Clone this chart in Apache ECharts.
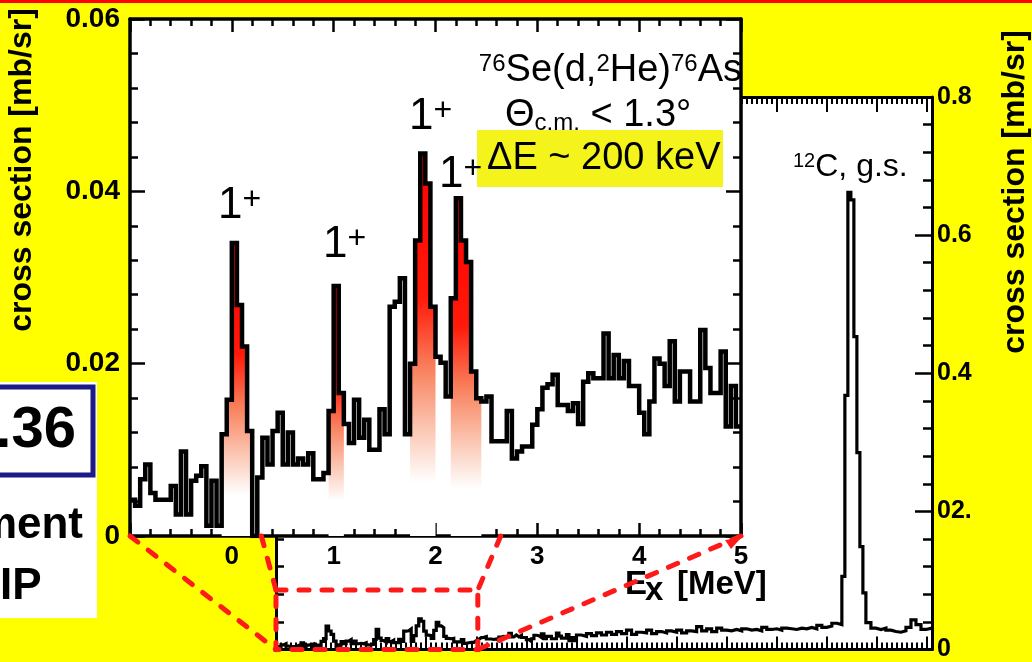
<!DOCTYPE html>
<html>
<head>
<meta charset="utf-8">
<script src="https://cdn.jsdelivr.net/npm/echarts@6/dist/echarts.min.js"></script>
<style>
html,body{margin:0;padding:0;background:#ffff00;}
#c{width:1032px;height:662px;}
</style>
</head>
<body>
<div id="c"></div>
<script>
// ---------------- data ----------------
// Inset spectrum 76Se(d,2He)76As, 0.05 MeV bins starting at Ex = -1 MeV [mb/sr]
const insetStartEx = -1.0;
const insetBinWidth = 0.05;
const insetValues = [
0.0042,0.0035,0.0066,0.0083,0.0050,0.0042,0.0042,0.0042,0.0058,0.0025,
0.0098,0.0025,0.0064,0.0070,0.0081,0.0012,0.0064,0.0012,0.0118,0.0158,
0.0340,0.0268,0.0220,0.0122,0.0000,0.0068,0.0114,0.0083,0.0122,0.0143,
0.0083,0.0120,0.0083,0.0090,0.0083,0.0096,0.0066,0.0066,0.0073,0.0145,
0.0290,0.0166,0.0130,0.0108,0.0158,0.0114,0.0135,0.0100,0.0100,0.0147,
0.0118,0.0266,0.0272,0.0299,0.0118,0.0200,0.0343,0.0444,0.0409,0.0266,
0.0208,0.0201,0.0162,0.0276,0.0392,0.0343,0.0318,0.0191,0.0160,0.0156,
0.0162,0.0110,0.0110,0.0110,0.0145,0.0090,0.0098,0.0104,0.0104,0.0129,
0.0147,0.0172,0.0176,0.0187,0.0152,0.0152,0.0145,0.0154,0.0130,0.0179,
0.0189,0.0183,0.0183,0.0235,0.0183,0.0210,0.0183,0.0203,0.0174,0.0174,
0.0143,0.0118,0.0156,0.0206,0.0200,0.0174,0.0226,0.0156,0.0191,0.0191,
0.0156,0.0156,0.0239,0.0195,0.0166,0.0166,0.0214,0.0127,0.0174,0.0127
];
// 1+ states (first and last bin index of each shaded peak)
const peakBinRanges = [[18,23],[39,41],[55,59],[63,68]];

// Full spectrum above 5 MeV (left bin edges and values) [mb/sr]
const tailEdges = [
5.0,5.1,5.2,5.3,5.4,5.5,5.6,5.7,5.8,5.9,
6.0,6.1,6.2,6.3,6.4,6.5,6.6,6.7,6.8,6.9,
7.0,7.1,7.2,7.3,7.4,7.5,7.6,7.7,7.8,7.9,
8.0,8.1,8.2,8.3,8.4,8.5,8.6,8.7,8.8,8.9,
9.0,9.1,9.2,9.3,9.4,9.5,9.6,9.7,9.8,9.9,
10.0,10.1,10.2,
10.30,10.36,10.42,10.48,10.54,10.60,10.66,10.72,
10.78,10.88,10.98,11.08,11.18,11.28,11.38,11.48,11.58,11.68,11.78,11.88,11.98
];
const tailValues = [
0.021,0.019,0.023,0.020,0.024,0.021,0.025,0.022,0.026,0.023,
0.028,0.022,0.025,0.024,0.028,0.023,0.026,0.024,0.027,0.025,
0.028,0.024,0.027,0.026,0.033,0.027,0.030,0.026,0.031,0.028,
0.027,0.029,0.027,0.030,0.028,0.029,0.027,0.032,0.029,0.030,
0.028,0.031,0.030,0.029,0.031,0.030,0.032,0.030,0.035,0.032,
0.034,0.038,0.036,
0.106,0.368,0.662,0.651,0.453,0.285,0.149,0.082,
0.039,0.031,0.029,0.031,0.028,0.026,0.025,0.027,0.032,0.043,0.036,0.029,0.031
];
const tailEnd = 12.1;

// tick labels
const mainYTickLabels = ['0','02.','0.4','0.6','0.8'];
const insetYTickLabels = ['0','0.02','0.04','0.06'];
const insetXTickLabels = ['','0','1','2','3','4','5'];

// ---------------- build ----------------
const FONT = '"Liberation Sans", Arial, Helvetica, sans-serif';

function binPoints(start, width, values, a, b) {
  const pts = [];
  for (let i = a; i <= b; i++) pts.push([+(start + i * width).toFixed(4), values[i]]);
  return pts;
}
const insetPts = binPoints(insetStartEx, insetBinWidth, insetValues, 0, insetValues.length - 1);
const insetLine = insetPts.concat([[+(insetStartEx + insetValues.length * insetBinWidth).toFixed(4), insetValues[insetValues.length - 1]]]);

const mainLine = insetPts.slice();
tailEdges.forEach((e, i) => mainLine.push([e, tailValues[i]]));
mainLine.push([tailEnd, tailValues[tailValues.length - 1]]);

const peakSeries = peakBinRanges.map(([a, b]) => {
  const pts = binPoints(insetStartEx, insetBinWidth, insetValues, a, b);
  pts.push([+(insetStartEx + (b + 1) * insetBinWidth).toFixed(4), insetValues[b]]);
  return {
    type: 'line', xAxisIndex: 2, yAxisIndex: 2, step: 'end', symbol: 'none',
    data: pts, zlevel: 1, z: 2, silent: true,
    lineStyle: { width: 0, color: 'rgba(0,0,0,0)' },
    areaStyle: {
      opacity: 1,
      color: { type: 'linear', x: 0, y: 0, x2: 0, y2: 1, colorStops: [
        { offset: 0, color: '#ff0000' },
        { offset: 0.38, color: '#ff1a0a' },
        { offset: 0.56, color: '#f8805c' },
        { offset: 0.72, color: '#fbc6b2' },
        { offset: 0.86, color: '#ffffff' },
        { offset: 1, color: '#ffffff' }
      ] }
    }
  };
});

const blk = '#000';
function tickAxis(extra) {
  return Object.assign({
    type: 'value',
    axisLine: { show: true, onZero: false, lineStyle: { color: blk, width: 3 } },
    splitLine: { show: false }, minorSplitLine: { show: false },
    axisLabel: { show: false }
  }, extra);
}

const option = {
  backgroundColor: '#ffff00',
  animation: false,
  grid: [
    { left: 276, top: 97, width: 656, height: 556, show: true, backgroundColor: '#ffffff', borderWidth: 0, borderColor: 'transparent', zlevel: 0 },
    { left: 130, top: 19, width: 611, height: 517, show: true, backgroundColor: '#ffffff', borderWidth: 0, borderColor: 'transparent', zlevel: 1 }
  ],
  xAxis: [
    tickAxis({ gridIndex: 0, position: 'bottom', min: -1, max: 12.1, interval: 1, zlevel: 0,
      axisTick: { show: true, inside: true, length: 13, lineStyle: { color: blk, width: 2 } },
      minorTick: { show: true, splitNumber: 10, length: 7, lineStyle: { color: blk, width: 2 } } }),
    tickAxis({ gridIndex: 0, position: 'top', min: -1, max: 12.1, interval: 1, zlevel: 0,
      axisTick: { show: true, inside: true, length: 15, lineStyle: { color: blk, width: 2 } },
      minorTick: { show: true, splitNumber: 10, length: 7, lineStyle: { color: blk, width: 2 } } }),
    tickAxis({ gridIndex: 1, position: 'bottom', min: -1, max: 5, interval: 1, zlevel: 1,
      axisLine: { show: true, onZero: false, lineStyle: { color: blk, width: 3.5 } },
      axisTick: { show: true, inside: true, length: 13, lineStyle: { color: blk, width: 2.5 } },
      minorTick: { show: true, splitNumber: 5, length: 7, lineStyle: { color: blk, width: 2.5 } },
      axisLabel: { show: true, margin: 8, fontSize: 26, fontWeight: 'bold', fontFamily: FONT, color: blk,
        formatter: v => insetXTickLabels[Math.round(v) + 1] } }),
    tickAxis({ gridIndex: 1, position: 'top', min: -1, max: 5, interval: 1, zlevel: 1,
      axisLine: { show: true, onZero: false, lineStyle: { color: blk, width: 3.5 } },
      axisTick: { show: true, inside: true, length: 13, lineStyle: { color: blk, width: 2.5 } },
      minorTick: { show: true, splitNumber: 5, length: 7, lineStyle: { color: blk, width: 2.5 } } })
  ],
  yAxis: [
    tickAxis({ gridIndex: 0, position: 'right', min: 0, max: 0.8, interval: 0.2, zlevel: 0,
      axisTick: { show: true, inside: true, length: 17, lineStyle: { color: blk, width: 2.5 } },
      minorTick: { show: true, splitNumber: 5, length: 9, lineStyle: { color: blk, width: 2.5 } },
      axisLabel: { show: true, margin: 5, fontSize: 25, fontWeight: 'bold', fontFamily: FONT, color: blk,
        padding: [10, 0, 0, 0],
        formatter: v => mainYTickLabels[Math.round(v / 0.2)] } }),
    tickAxis({ gridIndex: 0, position: 'left', min: 0, max: 0.8, interval: 0.2, zlevel: 0,
      axisTick: { show: true, inside: true, length: 15, lineStyle: { color: blk, width: 2.5 } },
      minorTick: { show: true, splitNumber: 5, length: 8, lineStyle: { color: blk, width: 2.5 } } }),
    tickAxis({ gridIndex: 1, position: 'left', min: 0, max: 0.06, interval: 0.02, zlevel: 1,
      axisLine: { show: true, onZero: false, lineStyle: { color: blk, width: 3.5 } },
      axisTick: { show: true, inside: true, length: 15, lineStyle: { color: blk, width: 2.5 } },
      minorTick: { show: true, splitNumber: 5, length: 8, lineStyle: { color: blk, width: 2.5 } },
      axisLabel: { show: true, margin: 10, fontSize: 28, fontWeight: 'bold', fontFamily: FONT, color: blk,
        padding: [4, 0, 0, 0],
        formatter: v => insetYTickLabels[Math.round(v / 0.02)] } }),
    tickAxis({ gridIndex: 1, position: 'right', min: 0, max: 0.06, interval: 0.02, zlevel: 1,
      axisLine: { show: true, onZero: false, lineStyle: { color: blk, width: 3.5 } },
      axisTick: { show: true, inside: true, length: 15, lineStyle: { color: blk, width: 2.5 } },
      minorTick: { show: true, splitNumber: 5, length: 8, lineStyle: { color: blk, width: 2.5 } } })
  ],
  series: [
    { type: 'line', name: 'full', xAxisIndex: 0, yAxisIndex: 0, step: 'end', symbol: 'none',
      data: mainLine, zlevel: 0, z: 3, silent: true,
      lineStyle: { color: blk, width: 3.2, join: 'miter' } }
  ].concat(peakSeries).concat([
    { type: 'line', name: 'inset', xAxisIndex: 2, yAxisIndex: 2, step: 'end', symbol: 'none',
      data: insetLine, zlevel: 1, z: 4, silent: true,
      lineStyle: { color: blk, width: 4.5, join: 'miter' } }
  ])
};

const chart = echarts.init(document.getElementById('c'));
chart.setOption(option);

// ---------------- annotations ----------------
const toInset = p => chart.convertToPixel({ xAxisIndex: 2, yAxisIndex: 2 }, p);
const toMain = p => chart.convertToPixel({ xAxisIndex: 0, yAxisIndex: 0 }, p);

const zoomBox = { x0: -1, x1: 3.03, y0: 0, y1: 0.086 };
const zoomLinks = [
  [[-1, 0], [-1, 0]],
  [[0.29, 0], [-1, 0.086]],
  [[2.64, 0], [3.03, 0.086]],
  [[5, 0], [3.03, 0]]
];
const dashStyle = { stroke: '#ff1a1a', lineWidth: 5, lineDash: [10, 13], lineCap: 'round', fill: null };

const g = [];
g.push({ type: 'rect', shape: { x: 0, y: 0, width: 1032, height: 3 }, style: { fill: '#ff0000' }, zlevel: 2 });

// fragment of the slide at the left
g.push({ type: 'rect', shape: { x: 0, y: 382, width: 97, height: 236 }, style: { fill: '#ffffff' }, zlevel: 2 });
g.push({ type: 'rect', shape: { x: -10, y: 387, width: 103, height: 88 }, style: { fill: null, stroke: '#1c1a86', lineWidth: 5 }, zlevel: 2 });
g.push({ type: 'text', x: 76, y: 431, style: { text: '.36', font: 'bold 58px ' + FONT, fill: blk, align: 'right', verticalAlign: 'middle' }, zlevel: 2 });
g.push({ type: 'text', x: 83, y: 526, style: { text: 'ment', font: 'bold 44px ' + FONT, fill: blk, align: 'right', verticalAlign: 'middle' }, zlevel: 2 });
g.push({ type: 'text', x: 0, y: 587, style: { text: 'IP', font: 'bold 44px ' + FONT, fill: blk, align: 'left', verticalAlign: 'middle' }, zlevel: 2 });

// axis titles
g.push({ type: 'text', x: 22, y: 170, rotation: Math.PI / 2, style: { text: 'cross section [mb/sr]', font: 'bold 32px ' + FONT, fill: blk, align: 'center', verticalAlign: 'middle' }, zlevel: 2 });
g.push({ type: 'text', x: 1015, y: 192, rotation: Math.PI / 2, style: { text: 'cross section [mb/sr]', font: 'bold 32px ' + FONT, fill: blk, align: 'center', verticalAlign: 'middle' }, zlevel: 2 });
g.push({ type: 'text', x: 625, y: 585, style: { text: 'E', font: 'bold 33px ' + FONT, fill: blk, align: 'left', verticalAlign: 'middle' }, zlevel: 2 });
g.push({ type: 'text', x: 645, y: 591, style: { text: 'x', font: 'bold 33px ' + FONT, fill: blk, align: 'left', verticalAlign: 'middle' }, zlevel: 2 });
g.push({ type: 'text', x: 677, y: 585, style: { text: '[MeV]', font: 'bold 33px ' + FONT, fill: blk, align: 'left', verticalAlign: 'middle' }, zlevel: 2 });

// reaction text
g.push({ type: 'text', x: 742, y: 71, style: {
  text: '{s|76}{m|Se(d,}{s|2}{m|He)}{s|76}{m|As}', align: 'right', verticalAlign: 'middle', fill: blk,
  rich: { m: { fontSize: 38, fontFamily: FONT, lineHeight: 38, fill: blk },
          s: { fontSize: 24, fontFamily: FONT, lineHeight: 16, verticalAlign: 'top', fill: blk } } }, zlevel: 2 });
g.push({ type: 'text', x: 505, y: 116, style: {
  text: '{m|\u0398}{s|c.m.}{m| < 1.3\u00b0}', align: 'left', verticalAlign: 'middle', fill: blk,
  rich: { m: { fontSize: 38, fontFamily: FONT, lineHeight: 38, fill: blk },
          s: { fontSize: 24, fontFamily: FONT, lineHeight: 14, verticalAlign: 'bottom', fill: blk } } }, zlevel: 2 });
g.push({ type: 'rect', shape: { x: 477, y: 130, width: 246, height: 57 }, style: { fill: '#f4f41c' }, zlevel: 2 });
g.push({ type: 'text', x: 487, y: 159, style: { text: '\u0394E ~ 200 keV', font: '38px ' + FONT, fill: blk, align: 'left', verticalAlign: 'middle' }, zlevel: 2 });

// 1+ labels
[[218, 206], [323, 245], [409, 117], [439, 175]].forEach(([x, y]) => {
  g.push({ type: 'text', x: x, y: y, style: {
    text: '{a|1}{b|+}', align: 'left', verticalAlign: 'middle', fill: blk,
    rich: { a: { fontSize: 44, fontFamily: FONT, lineHeight: 44, fill: blk },
            b: { fontSize: 32, fontFamily: FONT, lineHeight: 28, verticalAlign: 'top', fill: blk } } }, zlevel: 2 });
});

// 12C g.s.
g.push({ type: 'text', x: 793, y: 167, style: {
  text: '{s|12}{m|C, g.s.}', align: 'left', verticalAlign: 'middle', fill: blk,
  rich: { m: { fontSize: 32, fontFamily: FONT, lineHeight: 32, fill: blk },
          s: { fontSize: 20, fontFamily: FONT, lineHeight: 14, verticalAlign: 'top', fill: blk } } }, zlevel: 2 });

// zoom indicator (dashed box on the full spectrum and connecting lines)
const b0 = toMain([zoomBox.x0, zoomBox.y0]);
const b1 = toMain([zoomBox.x1, zoomBox.y1]);
g.push({ type: 'polyline', shape: { points: [[b0[0], b1[1]], [b1[0], b1[1]], [b1[0], b0[1]], [b0[0], b0[1]], [b0[0], b1[1]]] }, style: dashStyle, zlevel: 2 });
zoomLinks.forEach(([pi, pm]) => {
  const a = toInset(pi), c = toMain(pm);
  g.push({ type: 'line', shape: { x1: a[0], y1: a[1], x2: c[0], y2: c[1] }, style: dashStyle, zlevel: 2 });
});
// arrow head at the inset end of the last link
const tip = toInset([5, 0]);
g.push({ type: 'polygon', shape: { points: [[tip[0], tip[1] + 2], [tip[0] - 16, tip[1] + 4], [tip[0] - 10, tip[1] + 13]] }, style: { fill: '#ff1a1a' }, zlevel: 2 });

chart.setOption({ graphic: { elements: g } });
</script>
</body>
</html>
